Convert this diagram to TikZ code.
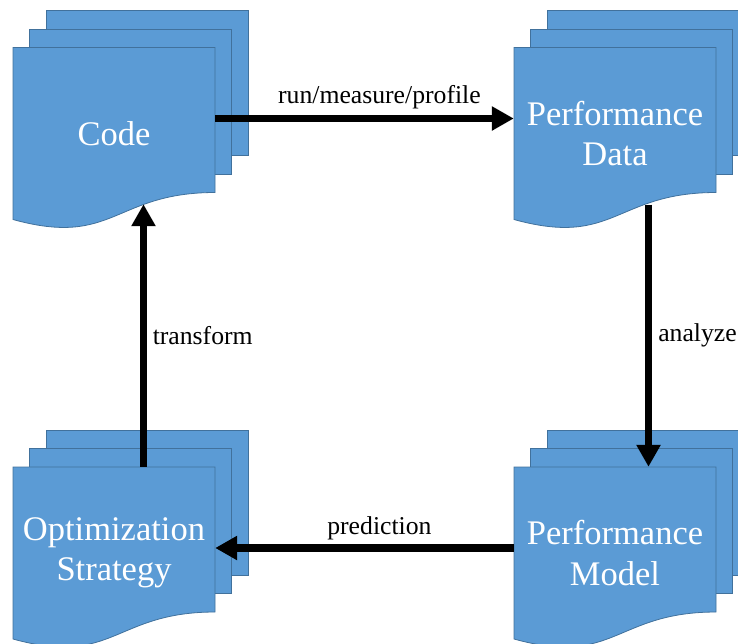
\documentclass[tikz,border=0pt]{standalone}
\usepackage{fontspec}
\setmainfont{Liberation Serif}
\usetikzlibrary{arrows.meta}
\usetikzlibrary{calc}

\definecolor{docblue}{HTML}{5B9BD5}
\definecolor{docedge}{HTML}{41719C}

\begin{document}
\begin{tikzpicture}[x=1pt,y=-1pt,
        page/.style={fill=docblue,draw=docedge,line width=0.8pt},
        doctext/.style={text=white,align=center,inner sep=0pt,
            minimum width=202pt,minimum height=172pt,
            font=\fontsize{34.5}{40.5}\selectfont},
        flow/.style={line width=7.5pt,-{Triangle[length=22pt,width=23pt]}},
        lbl/.style={inner sep=0pt,font=\fontsize{25.7}{30}\selectfont}]
        \useasboundingbox (0,0) rectangle (738,643);

        %% define points (top left corner of each front page)
        \def\Ax{13};
        \def\Ay{47.5};
        \def\Bx{514};
        \def\By{47.5};
        \def\Cx{514};
        \def\Cy{467};
        \def\Dx{13};
        \def\Dy{467};

        %% code
        \filldraw[page] (\Ax+33,\Ay-37) rectangle ++(202,145);
        \filldraw[page] (\Ax+16.5,\Ay-18.5) rectangle ++(202,145);
        \filldraw[page] (\Ax,\Ay) -- ++(202,0) -- ++(0,145)
            .. controls (\Ax+101,\Ay+145) and (\Ax+101,\Ay+200) .. (\Ax,\Ay+172) -- cycle;
        \node[doctext] (code) at (\Ax+101,\Ay+86) {Code};

        %% performance data
        \filldraw[page] (\Bx+33,\By-37) rectangle ++(202,145);
        \filldraw[page] (\Bx+16.5,\By-18.5) rectangle ++(202,145);
        \filldraw[page] (\Bx,\By) -- ++(202,0) -- ++(0,145)
            .. controls (\Bx+101,\By+145) and (\Bx+101,\By+200) .. (\Bx,\By+172) -- cycle;
        \node[doctext] (data) at (\Bx+101,\By+86) {Performance\\Data};

        %% performance model
        \filldraw[page] (\Cx+33,\Cy-37) rectangle ++(202,145);
        \filldraw[page] (\Cx+16.5,\Cy-18.5) rectangle ++(202,145);
        \filldraw[page] (\Cx,\Cy) -- ++(202,0) -- ++(0,145)
            .. controls (\Cx+101,\Cy+145) and (\Cx+101,\Cy+200) .. (\Cx,\Cy+172) -- cycle;
        \node[doctext] (model) at (\Cx+101,\Cy+86) {Performance\\Model};

        %% optimization strategy
        \filldraw[page] (\Dx+33,\Dy-37) rectangle ++(202,145);
        \filldraw[page] (\Dx+16.5,\Dy-18.5) rectangle ++(202,145);
        \filldraw[page] (\Dx,\Dy) -- ++(202,0) -- ++(0,145)
            .. controls (\Dx+101,\Dy+145) and (\Dx+101,\Dy+200) .. (\Dx,\Dy+172) -- cycle;
        \node[doctext] (strategy) at (\Dx+101,\Dy+86) {Optimization\\Strategy};

        %% arrows between the stacks
        \draw[flow] ([yshift=15pt]code.east) -- ([yshift=15pt]data.west)
            node[lbl,pos=0.55,above=6pt] {run/measure/profile};
        \draw[flow] ([xshift=33.5pt,yshift=15pt]data.south) -- ([xshift=33.5pt]model.north)
            node[lbl,midway,right=6pt] {analyze};
        \draw[flow] ([yshift=5pt]model.west) -- ([yshift=5pt]strategy.east)
            node[lbl,pos=0.45,above=4.5pt] {prediction};
        \draw[flow] ([xshift=29.5pt]strategy.north) -- ([xshift=29.5pt,yshift=15.5pt]code.south)
            node[lbl,midway,right=5.5pt] {transform};
    \end{tikzpicture}
\end{document}
